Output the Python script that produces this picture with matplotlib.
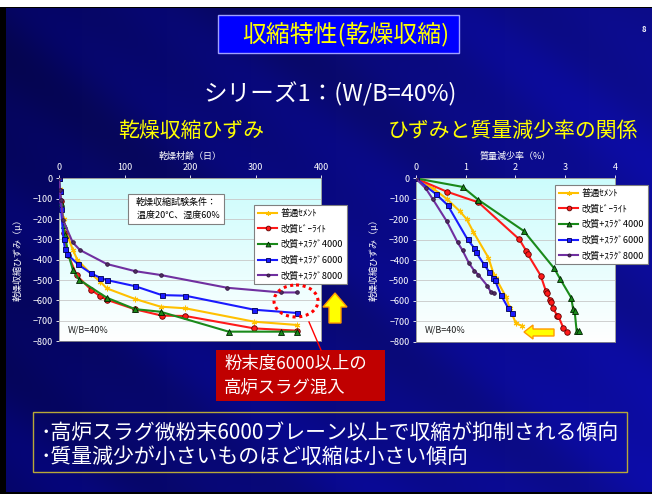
import numpy as np
import matplotlib.pyplot as plt
from matplotlib.patches import Rectangle, Ellipse, Polygon
from matplotlib.lines import Line2D

plt.rcParams['font.family'] = ['Noto Sans CJK JP', 'DejaVu Sans']

# ---------------- data ----------------
series_names = ["普通ｾﾒﾝﾄ", "改質ﾋﾞｰﾗｲﾄ", "改質+ｽﾗｸﾞ4000", "改質+ｽﾗｸﾞ6000", "改質+ｽﾗｸﾞ8000"]

# left chart: drying age (days) vs drying shrinkage strain (micro)
age_normal = [0, 1, 3, 7, 14, 21, 28, 49, 63, 73, 116, 155, 193, 298, 363]
strain_normal = [0, -50, -120, -200, -290, -350, -400, -470, -508, -541, -593, -631, -639, -705, -721]
age_belite = [0, 1, 3, 7, 14, 27, 49, 63, 73, 116, 157, 193, 298, 363]
strain_belite = [0, -60, -110, -270, -375, -477, -548, -580, -597, -644, -675, -677, -738, -749]
age_s4000 = [0, 1, 3, 7, 9, 14, 21, 31, 73, 116, 155, 259, 339, 363]
strain_s4000 = [0, -60, -120, -230, -279, -370, -448, -499, -587, -643, -656, -754, -754, -754]
age_s6000 = [0, 1, 3, 7, 9, 12, 29, 49, 63, 73, 116, 157, 193, 298, 363]
strain_s6000 = [0, -60, -150, -300, -348, -370, -423, -467, -489, -500, -530, -574, -577, -646, -662]
age_s8000 = [0, 1, 3, 6, 21, 32, 73, 116, 155, 257, 339, 363]
strain_s8000 = [0, -55, -105, -204, -315, -352, -421, -456, -475, -538, -561, -561]

# right chart: mass loss ratio (%) vs drying shrinkage strain (micro)
loss_normal = [0, 0.35, 0.62, 0.88, 1.02, 1.16, 1.46, 1.57, 1.61, 1.81, 1.89, 2.01, 2.13]
rstrain_normal = [0, -50, -100, -160, -199, -264, -389, -473, -490, -580, -637, -710, -722]
loss_belite = [0, 0.62, 1.26, 2.08, 2.22, 2.25, 2.51, 2.61, 2.63, 2.70, 2.71, 2.76, 2.84, 2.86, 2.96, 3.03]
rstrain_belite = [0, -65, -118, -299, -356, -372, -477, -550, -563, -598, -604, -637, -673, -673, -731, -751]
loss_s4000 = [0, 0.94, 1.26, 2.17, 2.78, 2.90, 3.12, 3.16, 3.19, 3.23, 3.28]
rstrain_s4000 = [0, -42, -106, -258, -441, -493, -584, -640, -650, -748, -748]
loss_s6000 = [0, 0.41, 0.64, 1.04, 1.18, 1.21, 1.37, 1.48, 1.56, 1.59, 1.71, 1.86, 1.94]
rstrain_s6000 = [0, -78, -131, -299, -343, -362, -421, -460, -487, -498, -571, -637, -661]
loss_s8000 = [0, 0.20, 0.34, 0.62, 0.84, 0.94, 1.07, 1.18, 1.26, 1.44, 1.51, 1.57]
rstrain_s8000 = [0, -49, -101, -209, -313, -353, -416, -454, -473, -527, -558, -563]

x_ticks_left = [0, 100, 200, 300, 400]
x_ticks_right = [0, 1, 2, 3, 4]
y_ticks = [0, -100, -200, -300, -400, -500, -600, -700, -800]

# ---------------- styles ----------------
styles = [
    dict(color='#ffc000', marker=(6, 2, 0), ms=4, mfc='#ffc000', mec='#ffc000', mew=0.8),
    dict(color='#ff1a1a', marker='o', ms=4, mfc='#ff1a1a', mec='#600000', mew=0.6),
    dict(color='#1a8a1a', marker='^', ms=4.2, mfc='#1a8a1a', mec='#002000', mew=0.6),
    dict(color='#1a1aff', marker='s', ms=3.6, mfc='#1a1aff', mec='#000050', mew=0.6),
    dict(color='#7030a0', marker='o', ms=2.6, mfc='#503060', mec='#301040', mew=0.6),
]

W, H = 652, 494
fig = plt.figure(figsize=(6.52, 4.94), dpi=100)
fig.patch.set_facecolor('black')

bg = fig.add_axes([0, 0, 1, 1])
bg.set_xlim(0, W)
bg.set_ylim(H, 0)
bg.axis('off')

# slide background gradient with diagonal streaks
yy, xx = np.mgrid[0:H, 0:W].astype(float)
u = xx - 1.3 * yy
b = 0.36 + 0.22 * (xx / W) + 0.05 * (yy / H)
b += 0.035 * np.sin(u / 55.0) + 0.02 * np.sin(u / 23.0 + 1.0)
b = np.clip(b, 0, 1)
img = np.dstack([0.02 + 0.03 * (xx / W), 0.02 + 0.03 * (xx / W), b])
bg.imshow(img, extent=[6, W, 492, 9], aspect='auto', zorder=0, interpolation='bilinear')
bg.add_patch(Rectangle((0, 0), W, 7, facecolor='white', edgecolor='none', zorder=1))


def fx(x):
    return x / W


def fy(y):
    return 1 - y / H


# title box
bg.add_patch(Rectangle((218, 15), 241, 38, facecolor='#0000ff', edgecolor='#a0a0ff', lw=1.0, zorder=2))
fig.text(fx(346), fy(34), "収縮特性(乾燥収縮)", color='#ffff00', fontsize=17.2,
         ha='center', va='center')
fig.text(fx(644), fy(30), "8", color='white', fontsize=5.5, fontweight='bold', ha='center', va='center')
fig.text(fx(330), fy(94), "シリーズ1：(W/B=40%)", color='white', fontsize=17,
         ha='center', va='center')
fig.text(fx(191), fy(131), "乾燥収縮ひずみ", color='#ffff00', fontsize=15, ha='center', va='center')
fig.text(fx(513), fy(131), "ひずみと質量減少率の関係", color='#ffff00', fontsize=15, ha='center', va='center')


def make_axes(l, t, r, bt, xlim, xticks, xlabel, xlab_x):
    ax = fig.add_axes([fx(l), fy(bt), (r - l) / W, (bt - t) / H])
    grad = np.linspace(0, 1, 100)[:, None]
    cols = np.dstack([0.80 + 0.2 * grad, 0.99 + 0.01 * grad, 0.99 + 0.01 * grad])
    ax.imshow(cols, extent=[xlim[0], xlim[1], -800, 0], aspect='auto', zorder=0)
    ax.set_xlim(*xlim)
    ax.set_ylim(-800, 0)
    ax.xaxis.tick_top()
    ax.set_xticks(xticks)
    ax.set_yticks(y_ticks)
    ax.tick_params(colors='white', labelsize=6.5, length=2.5, width=0.6, pad=2)
    for s in ax.spines.values():
        s.set_color('#909090')
        s.set_linewidth(0.6)
    ax.grid(axis='y', color='#c8c8c8', lw=0.6)
    ax.set_axisbelow(True)
    fig.text(fx(xlab_x), fy(156), xlabel, color='white', fontsize=6.5, ha='center', va='center')
    return ax


axL = make_axes(59, 178.5, 321, 341, (0, 400), x_ticks_left, "乾燥材齢（日）", 190)
axR = make_axes(415.7, 178.3, 615, 341.7, (0, 4), x_ticks_right, "質量減少率（%）", 515)

fig.text(fx(18), fy(258), "乾燥収縮ひずみ（μ）", color='white', fontsize=6.5, rotation=90,
         ha='center', va='center')
fig.text(fx(374), fy(258), "乾燥収縮ひずみ（μ）", color='white', fontsize=6.5, rotation=90,
         ha='center', va='center')

left_data = [(age_normal, strain_normal), (age_belite, strain_belite), (age_s4000, strain_s4000),
             (age_s6000, strain_s6000), (age_s8000, strain_s8000)]
right_data = [(loss_normal, rstrain_normal), (loss_belite, rstrain_belite), (loss_s4000, rstrain_s4000),
              (loss_s6000, rstrain_s6000), (loss_s8000, rstrain_s8000)]

for i in range(5):
    st = styles[i]
    x, y = left_data[i]
    axL.plot(x, y, color=st['color'], lw=1.5, marker=st['marker'], ms=st['ms'],
             mfc=st['mfc'], mec=st['mec'], mew=st['mew'], zorder=3)
    x, y = right_data[i]
    axR.plot(x, y, color=st['color'], lw=1.5, marker=st['marker'], ms=st['ms'],
             mfc=st['mfc'], mec=st['mec'], mew=st['mew'], zorder=3)

handles = [Line2D([], [], color=st['color'], lw=1.5, marker=st['marker'], ms=st['ms'] * 0.85,
                  mfc=st['mfc'], mec=st['mec'], mew=st['mew']) for st in styles]

for (lx, ly) in [(254, 205), (555, 185)]:
    leg = fig.legend(handles, series_names, loc='upper left', bbox_to_anchor=(fx(lx), fy(ly)),
                     fontsize=6.6, frameon=True, fancybox=False, edgecolor='#808080',
                     framealpha=1, handlelength=2.1, labelspacing=0.68, borderpad=0.45,
                     handletextpad=0.35, borderaxespad=0)
    leg.get_frame().set_linewidth(0.8)
    leg.set_zorder(10)

# condition box
fig.text(fx(176), fy(209), "乾燥収縮試験条件：\n  温度20℃、湿度60%", color='black', fontsize=6.5,
         ha='center', va='center', linespacing=1.5,
         bbox=dict(boxstyle='square,pad=0.5', facecolor='white', edgecolor='#808080', lw=0.8))

fig.text(fx(68), fy(330), "W/B=40%", color='#202020', fontsize=6.5, ha='left', va='center')
fig.text(fx(425), fy(330), "W/B=40%", color='#202020', fontsize=6.5, ha='left', va='center')

# overlay shapes (in pixel coords on top-level axes)
ov = fig.add_axes([0, 0, 1, 1], zorder=20)
ov.set_xlim(0, W)
ov.set_ylim(H, 0)
ov.axis('off')
ov.patch.set_alpha(0)

ov.add_patch(Ellipse((296, 301), 44, 32, facecolor='none', edgecolor='#ff0000', lw=2.2,
                     linestyle=(0, (1, 1.2))))
ov.plot([321, 309], [350, 322], color='#ff0000', lw=1.0)
# up arrow
ov.add_patch(Polygon([(335, 293), (347, 307), (341, 307), (341, 323), (329, 323), (329, 307), (323, 307)],
                     closed=True, facecolor='#ffff00', edgecolor='#ff9900', lw=1.0))
# left arrow
ov.add_patch(Polygon([(524, 332), (533, 325), (533, 329), (554, 329), (554, 336), (533, 336), (533, 339)],
                     closed=True, facecolor='#ffff00', edgecolor='#ff9900', lw=1.0))

# red callout box
ov.add_patch(Rectangle((216, 350), 169, 51, facecolor='#c00000', edgecolor='none'))
ov.text(224, 364, "粉末度6000以上の", color='white', fontsize=12.5, ha='left', va='center')
ov.text(224, 387, "高炉スラグ混入", color='white', fontsize=12.5, ha='left', va='center')

# bottom summary box
ov.add_patch(Rectangle((33, 412), 594, 60, facecolor='none', edgecolor='#b8a838', lw=1.0))
ov.text(40, 433, "･高炉スラグ微粉末6000ブレーン以上で収縮が抑制される傾向", color='white',
        fontsize=15, ha='left', va='center')
ov.text(40, 457, "･質量減少が小さいものほど収縮は小さい傾向", color='white',
        fontsize=15, ha='left', va='center')

fig.savefig('out.png', dpi=100, facecolor=fig.get_facecolor())
